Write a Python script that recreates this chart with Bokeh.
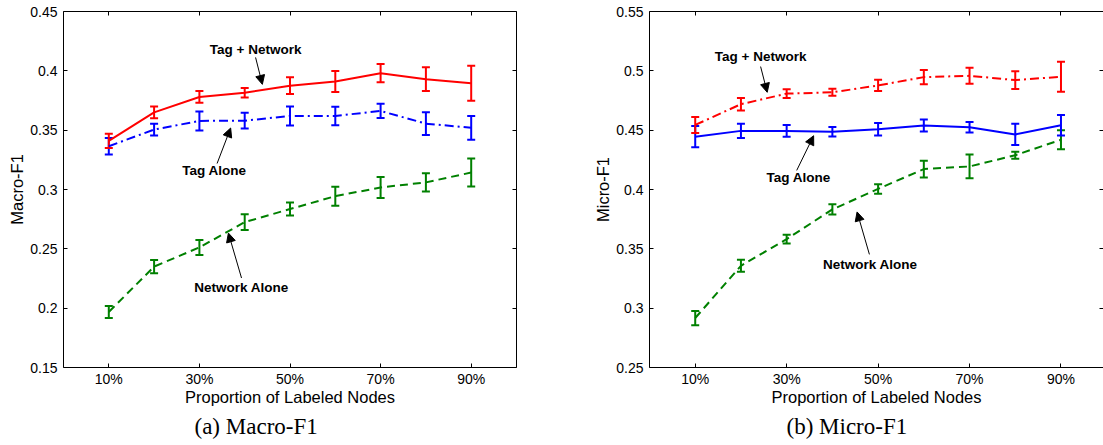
from bokeh.plotting import figure
from bokeh.layouts import row
from bokeh.models import (ColumnDataSource, Whisker, TeeHead, Arrow, NormalHead, Label, Title,
                          LinearAxis, FixedTicker, CustomJSTickFormatter, Range1d)
from bokeh.embed import file_html
from bokeh.resources import INLINE

# ---------------- data ----------------
x_pct = [10, 20, 30, 40, 50, 60, 70, 80, 90]
x_ticks = [10, 30, 50, 70, 90]
x_tick_labels = ["10%", "30%", "50%", "70%", "90%"]

a_y_ticks = [0.15, 0.2, 0.25, 0.3, 0.35, 0.4, 0.45]
a_y_tick_labels = ["0.15", "0.2", "0.25", "0.3", "0.35", "0.4", "0.45"]
b_y_ticks = [0.25, 0.3, 0.35, 0.4, 0.45, 0.5, 0.55]
b_y_tick_labels = ["0.25", "0.3", "0.35", "0.4", "0.45", "0.5", "0.55"]

# (a) Macro-F1
a_tag_net = [0.341, 0.365, 0.378, 0.3815, 0.3875, 0.391, 0.398, 0.393, 0.3895]
a_tag_net_err = [0.006, 0.005, 0.005, 0.004, 0.007, 0.0088, 0.0077, 0.010, 0.0147]
a_tag = [0.3365, 0.3505, 0.3578, 0.358, 0.362, 0.362, 0.3662, 0.3555, 0.352]
a_tag_err = [0.007, 0.005, 0.008, 0.0067, 0.008, 0.0078, 0.006, 0.0095, 0.010]
a_net = [0.1968, 0.235, 0.2512, 0.2725, 0.2835, 0.2944, 0.3017, 0.306, 0.3143]
a_net_err = [0.005, 0.0055, 0.0063, 0.0067, 0.0055, 0.008, 0.0088, 0.0076, 0.0118]

# (b) Micro-F1
b_tag_net = [0.4544, 0.4719, 0.4808, 0.4819, 0.4877, 0.4947, 0.4958, 0.4922, 0.495]
b_tag_net_err = [0.0067, 0.0053, 0.0036, 0.003, 0.0047, 0.006, 0.0067, 0.0075, 0.0126]
b_tag = [0.4445, 0.4494, 0.4494, 0.4486, 0.4508, 0.4539, 0.4525, 0.4464, 0.4542]
b_tag_err = [0.009, 0.006, 0.005, 0.004, 0.0053, 0.005, 0.0044, 0.009, 0.0086]
b_net = [0.2917, 0.3357, 0.3582, 0.3832, 0.4005, 0.4172, 0.4194, 0.4289, 0.4419]
b_net_err = [0.006, 0.005, 0.0037, 0.0043, 0.004, 0.007, 0.010, 0.003, 0.008]

FONT = "Liberation Sans"
RED, BLUE, GREEN = "#ff0000", "#0000ff", "#008000"


def fmt(ticks, labels):
    return CustomJSTickFormatter(
        args=dict(tvals=list(ticks), tlabels=list(labels)),
        code="for (let i = 0; i < tvals.length; i++) { if (Math.abs(tvals[i] - tick) < 1e-9) return tlabels[i]; } return '';")


def style_axis(ax, ticks, labels, show_labels, show_line=True):
    ax.ticker = FixedTicker(ticks=ticks)
    ax.axis_line_color = "black" if show_line else None
    ax.axis_line_width = 1
    ax.major_tick_in = 4
    ax.major_tick_out = 0
    ax.major_tick_line_color = "black"
    ax.minor_tick_line_color = None
    ax.major_label_text_font = FONT
    ax.major_label_text_color = "black"
    if show_labels:
        ax.formatter = fmt(ticks, labels)
        ax.major_label_text_font_size = "14px"
        ax.major_label_standoff = 6
    else:
        ax.formatter = CustomJSTickFormatter(code="return '';")
        ax.major_label_text_font_size = "0px"
        ax.major_label_standoff = 0


def make_panel(width, left, right, top, bottom, xr, yr, y_ticks, y_labels, ylabel,
               series, annotations, caption, cap_offset, show_right_line):
    p = figure(width=width, height=445, x_range=Range1d(*xr), y_range=Range1d(*yr),
               output_backend="svg", toolbar_location=None,
               min_border_left=left, min_border_right=right,
               min_border_top=top, min_border_bottom=bottom,
               x_axis_location=None, y_axis_location=None)
    p.xgrid.grid_line_color = None
    p.ygrid.grid_line_color = None
    p.outline_line_color = None
    p.background_fill_color = "white"
    p.border_fill_color = "white"

    xb = LinearAxis(axis_label="Proportion of Labeled Nodes")
    style_axis(xb, x_ticks, x_tick_labels, True)
    xb.major_label_standoff = 3
    xb.axis_label_text_font = FONT
    xb.axis_label_text_font_size = "16.5px"
    xb.axis_label_text_font_style = "normal"
    xb.axis_label_text_color = "black"
    xb.axis_label_standoff = -2
    p.add_layout(xb, "below")

    p.add_layout(Title(text=caption, align="left", offset=cap_offset,
                       text_font="Liberation Serif", text_font_size="23px",
                       text_font_style="normal", text_color="black",
                       vertical_align="middle", standoff=9), "below")

    xt = LinearAxis()
    style_axis(xt, x_ticks, x_tick_labels, False)
    p.add_layout(xt, "above")

    yl = LinearAxis(axis_label=ylabel)
    style_axis(yl, y_ticks, y_labels, True)
    yl.axis_label_text_font = FONT
    yl.axis_label_text_font_size = "16.5px"
    yl.axis_label_text_font_style = "normal"
    yl.axis_label_text_color = "black"
    yl.axis_label_standoff = 1
    p.add_layout(yl, "left")

    yr_ax = LinearAxis()
    style_axis(yr_ax, y_ticks, y_labels, False, show_line=show_right_line)
    p.add_layout(yr_ax, "right")

    for vals, errs, color, dash in series:
        p.line(x_pct, vals, line_color=color, line_width=2, line_dash=dash)
        src = ColumnDataSource(dict(x=x_pct,
                                    upper=[v + e for v, e in zip(vals, errs)],
                                    lower=[v - e for v, e in zip(vals, errs)]))
        p.add_layout(Whisker(source=src, base="x", upper="upper", lower="lower",
                             dimension="height", line_color=color, line_width=2,
                             upper_head=TeeHead(size=8, line_color=color, line_width=2),
                             lower_head=TeeHead(size=8, line_color=color, line_width=2)))

    for text, tx, ty, (x0, y0), (x1, y1) in annotations:
        p.add_layout(Arrow(end=NormalHead(size=9, fill_color="black", line_color="black", line_width=1),
                           x_start=x0, y_start=y0, x_end=x1, y_end=y1,
                           line_color="black", line_width=1))
        p.add_layout(Label(x=tx, y=ty, text=text, text_font=FONT, text_font_size="13.5px",
                           text_font_style="bold", text_align="center",
                           text_baseline="middle", text_color="black"))
    return p


pa = make_panel(
    580, 63, 64, 11, 77, (0, 100), (0.15, 0.45), a_y_ticks, a_y_tick_labels, "Macro-F1",
    [(a_net, a_net_err, GREEN, "8 5"),
     (a_tag, a_tag_err, BLUE, "9 4 2 4"),
     (a_tag_net, a_tag_net_err, RED, "solid")],
    [("Tag + Network", 42.4, 0.418, (42.4, 0.4113), (43.9, 0.3886)),
     ("Tag Alone", 33.3, 0.3163, (33.9, 0.3219), (36.9, 0.3518)),
     ("Network Alone", 39.3, 0.217, (39.3, 0.2254), (36.4, 0.2633))],
    "(a) Macro-F1", 131, True)

pb = make_panel(
    523, 69, 0, 7, 78, (0, 99.3), (0.25, 0.55), b_y_ticks, b_y_tick_labels, "Micro-F1",
    [(b_net, b_net_err, GREEN, "8 5"),
     (b_tag, b_tag_err, BLUE, "solid"),
     (b_tag_net, b_tag_net_err, RED, "9 4 2 4")],
    [("Tag + Network", 24.3, 0.5119, (24.3, 0.5036), (25.75, 0.4819)),
     ("Tag Alone", 32.6, 0.4103, (32.2, 0.4161), (35.9, 0.4453)),
     ("Network Alone", 48.3, 0.337, (48.1, 0.3453), (45.4, 0.3811))],
    "(b) Micro-F1", 137, False)

layout = row(pa, pb)
open("out.html", "w").write(file_html(layout, INLINE))
